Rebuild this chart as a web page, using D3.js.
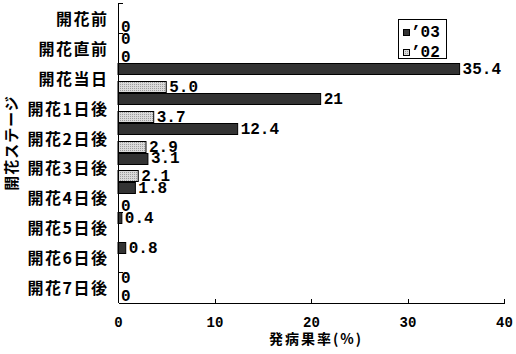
<!DOCTYPE html>
<html>
<head>
<meta charset="utf-8">
<script src="https://cdn.jsdelivr.net/npm/d3@7"></script>
<style>
  body { margin: 0; background: #fff; }
  svg { display: block; }
</style>
</head>
<body>
<svg id="chart" width="516" height="354"></svg>
<script>
// stages of flowering, top to bottom
const stages = ["開花前", "開花直前", "開花当日", "開花1日後", "開花2日後",
                "開花3日後", "開花4日後", "開花5日後", "開花6日後", "開花7日後"];
// disease incidence (%) per year, null = no bar / no label
const rate03 = [null, 0, 35.4, 21, 12.4, 3.1, 1.8, 0.4, 0.8, 0];
const rate02 = [0, 0, 5.0, 3.7, 2.9, 2.1, 0, null, null, 0];
const label03 = [null, "0", "35.4", "21", "12.4", "3.1", "1.8", "0.4", "0.8", "0"];
const label02 = ["0", "0", "5.0", "3.7", "2.9", "2.1", "0", null, null, "0"];
const series = ["’03", "’02"];
const xTicks = [0, 10, 20, 30, 40];

const svg = d3.select("#chart");
const numFont = "'Liberation Mono', 'DejaVu Sans Mono', monospace";
const jpFont = "'Noto Sans CJK JP', sans-serif";

// pattern for the light series
const defs = svg.append("defs");
const pat = defs.append("pattern")
    .attr("id", "dots")
    .attr("patternUnits", "userSpaceOnUse")
    .attr("width", 2).attr("height", 2);
pat.append("rect").attr("width", 2).attr("height", 2).attr("fill", "#dadada");
pat.append("rect").attr("width", 1).attr("height", 1).attr("fill", "#9c9c9c");

const fills = {"’03": "#333333", "’02": "url(#dots)"};

const x = d3.scaleLinear().domain([0, 40]).range([118, 504]);
const y = d3.scaleBand().domain(stages).range([3, 302]);
const ySub = d3.scaleBand().domain(series).range([0, y.bandwidth()]).paddingInner(1 / 3);

// rows: one per stage & series
let rows = [];
stages.forEach((s, i) => {
    rows.push({stage: s, ser: "’03", v: rate03[i], lab: label03[i]});
    rows.push({stage: s, ser: "’02", v: rate02[i], lab: label02[i]});
});
rows = rows.filter(d => d.v !== null);

// bars
svg.append("g")
    .selectAll("rect")
    .data(rows.filter(d => d.v > 0))
    .join("rect")
    .attr("x", x(0))
    .attr("y", d => Math.round(y(d.stage) + ySub(d.ser)) + 0.5)
    .attr("width", d => x(d.v) - x(0))
    .attr("height", Math.round(ySub.bandwidth()) - 1)
    .attr("fill", d => fills[d.ser])
    .attr("stroke", "#000")
    .attr("stroke-width", 1);

// value labels
svg.append("g")
    .selectAll("text")
    .data(rows)
    .join("text")
    .attr("x", d => x(d.v) + 3)
    .attr("y", d => y(d.stage) + ySub(d.ser) + ySub.bandwidth() / 2 + 1)
    .attr("dominant-baseline", "central")
    .attr("font-family", numFont)
    .attr("font-weight", "bold")
    .attr("font-size", 16)
    .text(d => d.lab);

// x axis
const xAxis = d3.axisBottom(x)
    .tickValues(xTicks)
    .tickSize(-4)
    .tickSizeOuter(0)
    .tickPadding(15)
    .tickFormat(d3.format("d"));
const gx = svg.append("g")
    .attr("transform", "translate(0,302.5)")
    .call(xAxis);
gx.select(".domain").attr("stroke", "#000").attr("shape-rendering", "crispEdges");
gx.selectAll(".tick line").attr("stroke", "#000").attr("shape-rendering", "crispEdges");
gx.selectAll(".tick text")
    .attr("font-family", numFont)
    .attr("font-weight", "bold")
    .attr("font-size", 14)
    .attr("fill", "#000");

// y axis line and band ticks
const gy = svg.append("g").attr("shape-rendering", "crispEdges");
gy.append("line")
    .attr("x1", x(0) + 0.5).attr("x2", x(0) + 0.5)
    .attr("y1", y.range()[0]).attr("y2", y.range()[1] + 0.5)
    .attr("stroke", "#000");
gy.selectAll(".yt")
    .data(stages)
    .join("line")
    .attr("class", "yt")
    .attr("x1", x(0)).attr("x2", x(0) + 5)
    .attr("y1", d => Math.round(y(d)) + 0.5)
    .attr("y2", d => Math.round(y(d)) + 0.5)
    .attr("stroke", "#000");

// category labels
svg.append("g")
    .selectAll("text")
    .data(stages)
    .join("text")
    .attr("x", 108.5)
    .attr("y", d => y(d) + y.bandwidth() / 2)
    .attr("text-anchor", "end")
    .attr("dominant-baseline", "central")
    .attr("font-family", jpFont)
    .attr("font-weight", "bold")
    .attr("font-size", 16)
    .attr("letter-spacing", 1.5)
    .text(d => d);

// axis titles
svg.append("text")
    .attr("x", 316).attr("y", 338)
    .attr("text-anchor", "middle")
    .attr("dominant-baseline", "central")
    .attr("font-family", jpFont)
    .attr("font-weight", "bold")
    .attr("font-size", 14)
    .attr("letter-spacing", 2)
    .text("発病果率(%)");

svg.append("text")
    .attr("transform", "translate(10,143) rotate(-90)")
    .attr("text-anchor", "middle")
    .attr("dominant-baseline", "central")
    .attr("font-family", jpFont)
    .attr("font-weight", "bold")
    .attr("font-size", 15)
    .attr("letter-spacing", 1)
    .text("開花ステージ");

// legend
const lg = svg.append("g").attr("transform", "translate(398,19)");
lg.append("rect")
    .attr("x", 0.5).attr("y", 0.5)
    .attr("width", 48).attr("height", 39)
    .attr("fill", "#fff").attr("stroke", "#000");
const li = lg.selectAll(".li")
    .data(series)
    .join("g")
    .attr("class", "li")
    .attr("transform", (d, i) => `translate(5,${10 + i * 20})`);
li.append("rect")
    .attr("x", 0.5).attr("y", 0.5)
    .attr("width", 6).attr("height", 6)
    .attr("fill", d => fills[d])
    .attr("stroke", "#000");
li.append("text")
    .attr("x", 8).attr("y", 4)
    .attr("dominant-baseline", "central")
    .attr("font-family", numFont)
    .attr("font-weight", "bold")
    .attr("font-size", 16)
    .text(d => d);
</script>
</body>
</html>
